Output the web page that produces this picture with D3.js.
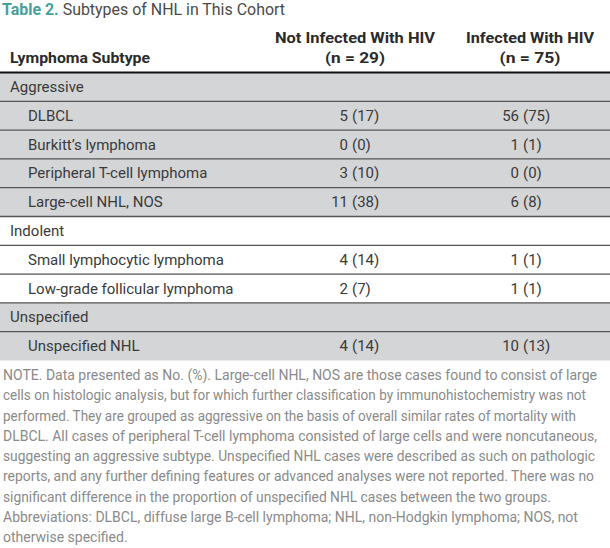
<!DOCTYPE html>
<html>
<head>
<meta charset="utf-8">
<script src="https://cdn.jsdelivr.net/npm/d3@7"></script>
<style>
  html, body { margin: 0; padding: 0; background: #fff; }
  svg { display: block; }
  text { font-family: "Roboto", "Liberation Sans", sans-serif; }
</style>
</head>
<body>
<svg id="chart" width="610" height="548"></svg>
<script>
// ---- Data ----
const titleLabel = "Table 2.";
const titleText = "Subtypes of NHL in This Cohort";
const columnHeaders = [["Not Infected With HIV", "(n = 29)"], ["Infected With HIV", "(n = 75)"]];
const rowHeader = "Lymphoma Subtype";
const rowLabels = ["Aggressive", "DLBCL", "Burkitt\u2019s lymphoma", "Peripheral T-cell lymphoma", "Large-cell NHL, NOS",
                   "Indolent", "Small lymphocytic lymphoma", "Low-grade follicular lymphoma",
                   "Unspecified", "Unspecified NHL"];
const isGroup = [true, false, false, false, false, true, false, false, true, false];
const groupShade = [true, true, true, true, true, false, false, false, true, true];
const notInfectedN   = [null, 5, 0, 3, 11, null, 4, 2, null, 4];
const notInfectedPct = [null, 17, 0, 10, 38, null, 14, 7, null, 14];
const infectedN      = [null, 56, 1, 0, 6, null, 1, 1, null, 10];
const infectedPct    = [null, 75, 1, 0, 8, null, 1, 1, null, 13];
const noteLines = [
  "NOTE. Data presented as No. (%). Large-cell NHL, NOS are those cases found to consist of large",
  "cells on histologic analysis, but for which further classification by immunohistochemistry was not",
  "performed. They are grouped as aggressive on the basis of overall similar rates of mortality with",
  "DLBCL. All cases of peripheral T-cell lymphoma consisted of large cells and were noncutaneous,",
  "suggesting an aggressive subtype. Unspecified NHL cases were described as such on pathologic",
  "reports, and any further defining features or advanced analyses were not reported. There was no",
  "significant difference in the proportion of unspecified NHL cases between the two groups.",
  "Abbreviations: DLBCL, diffuse large B-cell lymphoma; NHL, non-Hodgkin lymphoma; NOS, not",
  "otherwise specified."
];
const noteLineEnds = [597, 586, 576, 597, 595, 594, 551, 585, 153];

// ---- Layout ----
const W = 610;
const svg = d3.select("#chart");
const rowsIdx = d3.range(rowLabels.length);
const y = d3.scaleBand().domain(rowsIdx).range([72.5, 360.5]).paddingInner(0).paddingOuter(0);
const colParen = [352, 523];   // x of "(" in each value column
const colCenter = [355, 530];
const noteX = 3;
const noteY = d3.scalePoint().domain(d3.range(noteLines.length)).range([380, 542]);

const bodyColor = "#3a3a3a";
const bodySize = 15;

// Condense only (never stretch)
function fitWidth(sel, target) {
  sel.each(function () {
    const w = this.getComputedTextLength();
    if (w > target) d3.select(this).attr("textLength", target).attr("lengthAdjust", "spacingAndGlyphs");
  });
}
// Exact width
function setWidth(sel, target) {
  sel.attr("textLength", target).attr("lengthAdjust", "spacingAndGlyphs");
}

// Title
const t = svg.append("text").attr("x", 2).attr("y", 15).attr("font-size", 17);
t.append("tspan").attr("font-weight", "bold").attr("fill", "#47a0a0").text(titleLabel);
t.append("tspan").attr("fill", "#4a4a4a").text(" " + titleText);
fitWidth(t, 283);

// Header
const rh = svg.append("text").attr("x", 10).attr("y", 63).attr("font-size", bodySize)
  .attr("font-weight", "bold").attr("fill", "#2a2a2a").text(rowHeader);
setWidth(rh, 140);
const headerWidths = [[160, 60], [128, 61]];
columnHeaders.forEach((lines, i) => {
  lines.forEach((ln, j) => {
    const h = svg.append("text").attr("x", colCenter[i]).attr("y", 43 + j * 20)
      .attr("text-anchor", "middle").attr("font-size", bodySize)
      .attr("font-weight", "bold").attr("fill", "#2a2a2a").text(ln);
    setWidth(h, headerWidths[i][j]);
  });
});

// Row backgrounds
svg.selectAll("rect.row").data(rowsIdx).join("rect").attr("class", "row")
  .attr("x", 0).attr("width", W)
  .attr("y", d => y(d)).attr("height", y.bandwidth())
  .attr("fill", d => groupShade[d] ? "#d4d5d7" : "#ffffff");

// Row separators
svg.selectAll("line.sep").data(rowsIdx.slice(1)).join("line").attr("class", "sep")
  .attr("x1", 0).attr("x2", W)
  .attr("y1", d => y(d)).attr("y2", d => y(d))
  .attr("stroke", "#555").attr("stroke-width", 1.3);

// Header rule
svg.append("line").attr("x1", 0).attr("x2", W).attr("y1", 72.5).attr("y2", 72.5)
  .attr("stroke", "#111").attr("stroke-width", 2);

// Row labels
svg.selectAll("text.lab").data(rowsIdx).join("text").attr("class", "lab")
  .attr("x", d => isGroup[d] ? 10 : 28)
  .attr("y", d => y(d) + y.bandwidth() / 2 + 5)
  .attr("font-size", bodySize).attr("fill", bodyColor)
  .text(d => rowLabels[d]);

// Values
const valueCols = [[notInfectedN, notInfectedPct], [infectedN, infectedPct]];
valueCols.forEach(([ns, ps], c) => {
  const rows = rowsIdx.filter(d => ns[d] !== null);
  svg.selectAll("text.n" + c).data(rows).join("text").attr("class", "n" + c)
    .attr("x", colParen[c] - 4).attr("text-anchor", "end")
    .attr("y", d => y(d) + y.bandwidth() / 2 + 5)
    .attr("font-size", bodySize).attr("fill", bodyColor).text(d => ns[d]);
  svg.selectAll("text.p" + c).data(rows).join("text").attr("class", "p" + c)
    .attr("x", colParen[c]).attr("text-anchor", "start")
    .attr("y", d => y(d) + y.bandwidth() / 2 + 5)
    .attr("font-size", bodySize).attr("fill", bodyColor).text(d => "(" + ps[d] + ")");
});

// Note
svg.selectAll("text.note").data(noteLines).join("text").attr("class", "note")
  .attr("x", noteX).attr("y", (d, i) => noteY(i))
  .attr("font-size", 14).attr("fill", "#8a8a8a")
  .text(d => d)
  .each(function (d, i) { fitWidth(d3.select(this), noteLineEnds[i] - noteX); });
</script>
</body>
</html>
